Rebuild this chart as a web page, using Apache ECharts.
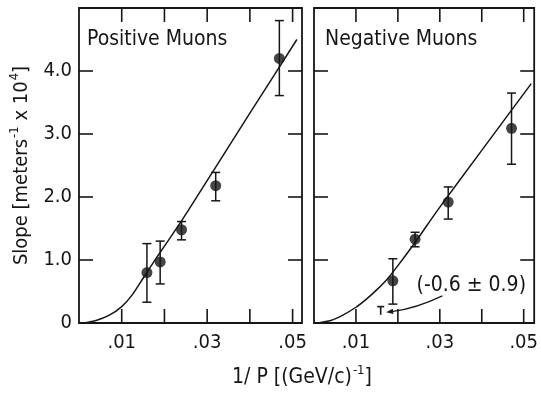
<!DOCTYPE html>
<html>
<head>
<meta charset="utf-8">
<script src="https://cdn.jsdelivr.net/npm/echarts@6/dist/echarts.min.js"></script>
<style>html,body{margin:0;padding:0;background:#fff;}#c{width:541px;height:393px;}</style>
</head>
<body>
<div id="c"></div>
<script>
// ---- data ----
const xTickValues = [0.01, 0.03, 0.05];
const xTickText = ['.01', '.03', '.05'];
const xTickMarks = [0.01, 0.02, 0.03, 0.04, 0.05];
const yTickValues = [0, 1, 2, 3, 4];
const yTickText = ['0', '1.0', '2.0', '3.0', '4.0'];
const yTickMarks = [1, 2, 3, 4];

const posX = [0.0159, 0.019, 0.024, 0.032, 0.0469];
const posY = [0.80, 0.97, 1.48, 2.18, 4.20];
const posLo = [0.33, 0.62, 1.32, 1.94, 3.61];
const posHi = [1.26, 1.30, 1.61, 2.39, 4.80];

const negX = [0.0188, 0.0241, 0.032, 0.0471];
const negY = [0.67, 1.33, 1.92, 3.09];
const negLo = [0.30, 1.21, 1.65, 2.52];
const negHi = [1.02, 1.44, 2.16, 3.65];

const posCurveX = [0.0012, 0.004, 0.007, 0.010, 0.0125, 0.015, 0.0175, 0.020, 0.024, 0.030, 0.040, 0.051];
const posCurveY = [0, 0.04, 0.12, 0.26, 0.45, 0.71, 0.97, 1.22, 1.62, 2.26, 3.33, 4.50];
const negCurveX = [0.0008, 0.004, 0.007, 0.010, 0.0125, 0.015, 0.0175, 0.020, 0.024, 0.030, 0.040, 0.0518];
const negCurveY = [0, 0.04, 0.13, 0.25, 0.38, 0.53, 0.70, 0.91, 1.27, 1.84, 2.74, 3.80];

// the point (-0.6 ± 0.9): only the top of its error bar is visible
const tX = [0.0159];
const tTop = [0.26];
const tBottom = [0.13];
const noteText = '(-0.6 \u00b1 0.9)';
const notePos = [0.0375, 0.60];
const arrowFrom = [0.0306, 0.43];
const arrowTo = [0.0172, 0.17];

const panelTitles = ['Positive Muons', 'Negative Muons'];

// ---- chart ----
const FONT = "'DejaVu Sans Condensed', 'Liberation Sans Narrow', 'DejaVu Sans', sans-serif";
const INK = '#161616';
const TICK = 14;
const chart = echarts.init(document.getElementById('c'), null, {renderer: 'canvas'});

function xLabel(v) {
  for (let i = 0; i < xTickValues.length; i++) if (Math.abs(v - xTickValues[i]) < 1e-6) return xTickText[i];
  return '';
}
function yLabel(v) {
  for (let i = 0; i < yTickValues.length; i++) if (Math.abs(v - yTickValues[i]) < 1e-6) return yTickText[i];
  return '';
}

const grids = [
  {left: 79, top: 8, width: 223, height: 315},
  {left: 314, top: 8, width: 224, height: 315}
];
const xMax = [0.0522, 0.0525];

const xAxes = [], yAxes = [];
grids.forEach((g, gi) => {
  xAxes.push({
    type: 'value', gridIndex: gi, position: 'bottom', min: 0, max: xMax[gi], interval: 0.01,
    axisLine: {show: false, onZero: false}, splitLine: {show: false}, axisTick: {show: false},
    axisLabel: {show: true, formatter: xLabel, margin: 10, color: INK, fontFamily: FONT, fontSize: 20}
  });
  const ax = {
    type: 'value', gridIndex: gi, position: 'left', min: 0, max: 5, interval: 1,
    axisLine: {show: false, onZero: false}, splitLine: {show: false}, axisTick: {show: false},
    axisLabel: {show: gi === 0, formatter: yLabel, margin: 7, color: INK, fontFamily: FONT, fontSize: 20}
  };
  if (gi === 0) {
    ax.name = '{a|Slope [meters}{s|-1}{a| x 10}{s|4}{a|]}';
    ax.nameLocation = 'middle';
    ax.nameGap = 44;
    ax.nameRotate = 90;
    ax.nameTextStyle = {
      color: INK, fontFamily: FONT,
      rich: {
        a: {fontSize: 20, color: INK, fontFamily: FONT},
        s: {fontSize: 13, color: INK, fontFamily: FONT, padding: [0, 0, 14, 1]}
      }
    };
  }
  yAxes.push(ax);
});

function errRender(cap) {
  return function (params, api) {
    const x = api.value(0), lo = api.value(1), hi = api.value(2);
    const pHi = api.coord([x, hi]);
    const pLo = api.coord([x, lo]);
    const st = {stroke: INK, lineWidth: 1.5};
    return {
      type: 'group',
      children: [
        {type: 'line', shape: {x1: pHi[0], y1: pHi[1], x2: pLo[0], y2: pLo[1]}, style: st},
        {type: 'line', shape: {x1: pHi[0] - cap, y1: pHi[1], x2: pHi[0] + cap, y2: pHi[1]}, style: st},
        {type: 'line', shape: {x1: pLo[0] - cap, y1: pLo[1], x2: pLo[0] + cap, y2: pLo[1]}, style: st}
      ]
    };
  };
}
function tRender(params, api) {
  const x = api.value(0), hi = api.value(1), lo = api.value(2);
  const pHi = api.coord([x, hi]);
  const pLo = api.coord([x, lo]);
  const st = {stroke: INK, lineWidth: 1.6};
  return {
    type: 'group',
    children: [
      {type: 'line', shape: {x1: pHi[0], y1: pHi[1], x2: pLo[0], y2: pLo[1]}, style: st},
      {type: 'line', shape: {x1: pHi[0] - 3.5, y1: pHi[1], x2: pHi[0] + 3.5, y2: pHi[1]}, style: st}
    ]
  };
}
// inward ticks on all four sides of a panel, placed by the axes' scales
function xTickRender(params, api) {
  const cs = params.coordSys;
  const p = api.coord([api.value(0), api.value(1)]);
  const st = {stroke: INK, lineWidth: 1.6};
  return {type: 'group', children: [
    {type: 'line', shape: {x1: p[0], y1: cs.y + cs.height, x2: p[0], y2: cs.y + cs.height - TICK}, style: st},
    {type: 'line', shape: {x1: p[0], y1: cs.y, x2: p[0], y2: cs.y + TICK}, style: st}
  ]};
}
function yTickRender(params, api) {
  const cs = params.coordSys;
  const p = api.coord([api.value(0), api.value(1)]);
  const st = {stroke: INK, lineWidth: 1.6};
  return {type: 'group', children: [
    {type: 'line', shape: {x1: cs.x, y1: p[1], x2: cs.x + TICK, y2: p[1]}, style: st},
    {type: 'line', shape: {x1: cs.x + cs.width, y1: p[1], x2: cs.x + cs.width - TICK, y2: p[1]}, style: st}
  ]};
}

const zip2 = (a, b) => a.map((v, i) => [v, b[i]]);
const zip3 = (a, b, c) => a.map((v, i) => [v, b[i], c[i]]);

const tickSeries = [];
[0, 1].forEach((gi) => {
  tickSeries.push({type: 'custom', xAxisIndex: gi, yAxisIndex: gi, data: xTickMarks.map(v => [v, 0.5]),
    encode: {x: 0, y: 1}, renderItem: xTickRender, clip: false, z: 5, silent: true});
  tickSeries.push({type: 'custom', xAxisIndex: gi, yAxisIndex: gi, data: yTickMarks.map(v => [0.005, v]),
    encode: {x: 0, y: 1}, renderItem: yTickRender, clip: false, z: 5, silent: true});
});

const option = {
  backgroundColor: '#ffffff',
  animation: false,
  grid: grids.map(g => Object.assign({show: true, borderColor: INK, borderWidth: 1.8, backgroundColor: 'transparent'}, g)),
  xAxis: xAxes,
  yAxis: yAxes,
  series: tickSeries.concat([
    {type: 'line', xAxisIndex: 0, yAxisIndex: 0, data: zip2(posCurveX, posCurveY), smooth: 0.25,
      showSymbol: false, lineStyle: {color: INK, width: 1.5}, z: 2},
    {type: 'custom', xAxisIndex: 0, yAxisIndex: 0, data: zip3(posX, posLo, posHi), renderItem: errRender(4.5), z: 3},
    {type: 'scatter', xAxisIndex: 0, yAxisIndex: 0, data: zip2(posX, posY), symbol: 'circle', symbolSize: 11,
      itemStyle: {color: INK}, z: 4},

    {type: 'line', xAxisIndex: 1, yAxisIndex: 1, data: zip2(negCurveX, negCurveY), smooth: 0.25,
      showSymbol: false, lineStyle: {color: INK, width: 1.5}, z: 2},
    {type: 'custom', xAxisIndex: 1, yAxisIndex: 1, data: zip3(negX, negLo, negHi), renderItem: errRender(4.5), z: 3},
    {type: 'scatter', xAxisIndex: 1, yAxisIndex: 1, data: zip2(negX, negY), symbol: 'circle', symbolSize: 11,
      itemStyle: {color: INK}, z: 4},
    {type: 'custom', xAxisIndex: 1, yAxisIndex: 1, data: zip3(tX, tTop, tBottom), renderItem: tRender, z: 3}
  ])
};
chart.setOption(option);

// annotations placed through the axes' scales
const toPx = (p) => chart.convertToPixel({xAxisIndex: 1, yAxisIndex: 1}, p);
const nP = toPx(notePos), aF = toPx(arrowFrom), aT = toPx(arrowTo);
const dx = aT[0] - aF[0], dy = aT[1] - aF[1];
const ctrl = [(aF[0] + aT[0]) / 2 + dy * 0.08, (aF[1] + aT[1]) / 2 - dx * 0.08];
const ang = Math.atan2(aT[1] - ctrl[1], aT[0] - ctrl[0]);
const hl = 7, hw = 2.6;
const base = [aT[0] - hl * Math.cos(ang), aT[1] - hl * Math.sin(ang)];
const head = [
  aT,
  [base[0] + hw * Math.sin(ang), base[1] - hw * Math.cos(ang)],
  [base[0] - hw * Math.sin(ang), base[1] + hw * Math.cos(ang)]
];

chart.setOption({
  graphic: [
    {type: 'text', left: 87, top: 29, style: {text: panelTitles[0], fill: INK, font: '21px ' + FONT}},
    {type: 'text', left: 325, top: 29, style: {text: panelTitles[1], fill: INK, font: '21px ' + FONT}},
    {type: 'text', x: 302, y: 378, style: {
      text: '{a|1/ P [(GeV/c)}{s|-1}{a|]}', align: 'center', verticalAlign: 'middle',
      rich: {a: {fontSize: 21, fontFamily: FONT, fill: INK}, s: {fontSize: 13, fontFamily: FONT, fill: INK, padding: [0, 0, 14, 1]}}
    }},
    {type: 'text', x: nP[0], y: nP[1], style: {text: noteText, fill: INK, font: '21px ' + FONT, align: 'center', verticalAlign: 'middle'}},
    {type: 'bezierCurve', shape: {x1: aF[0], y1: aF[1], cpx1: ctrl[0], cpy1: ctrl[1], x2: base[0], y2: base[1]},
      style: {stroke: INK, lineWidth: 1.2, fill: null}},
    {type: 'polygon', shape: {points: head}, style: {fill: INK}}
  ]
});
</script>
</body>
</html>
